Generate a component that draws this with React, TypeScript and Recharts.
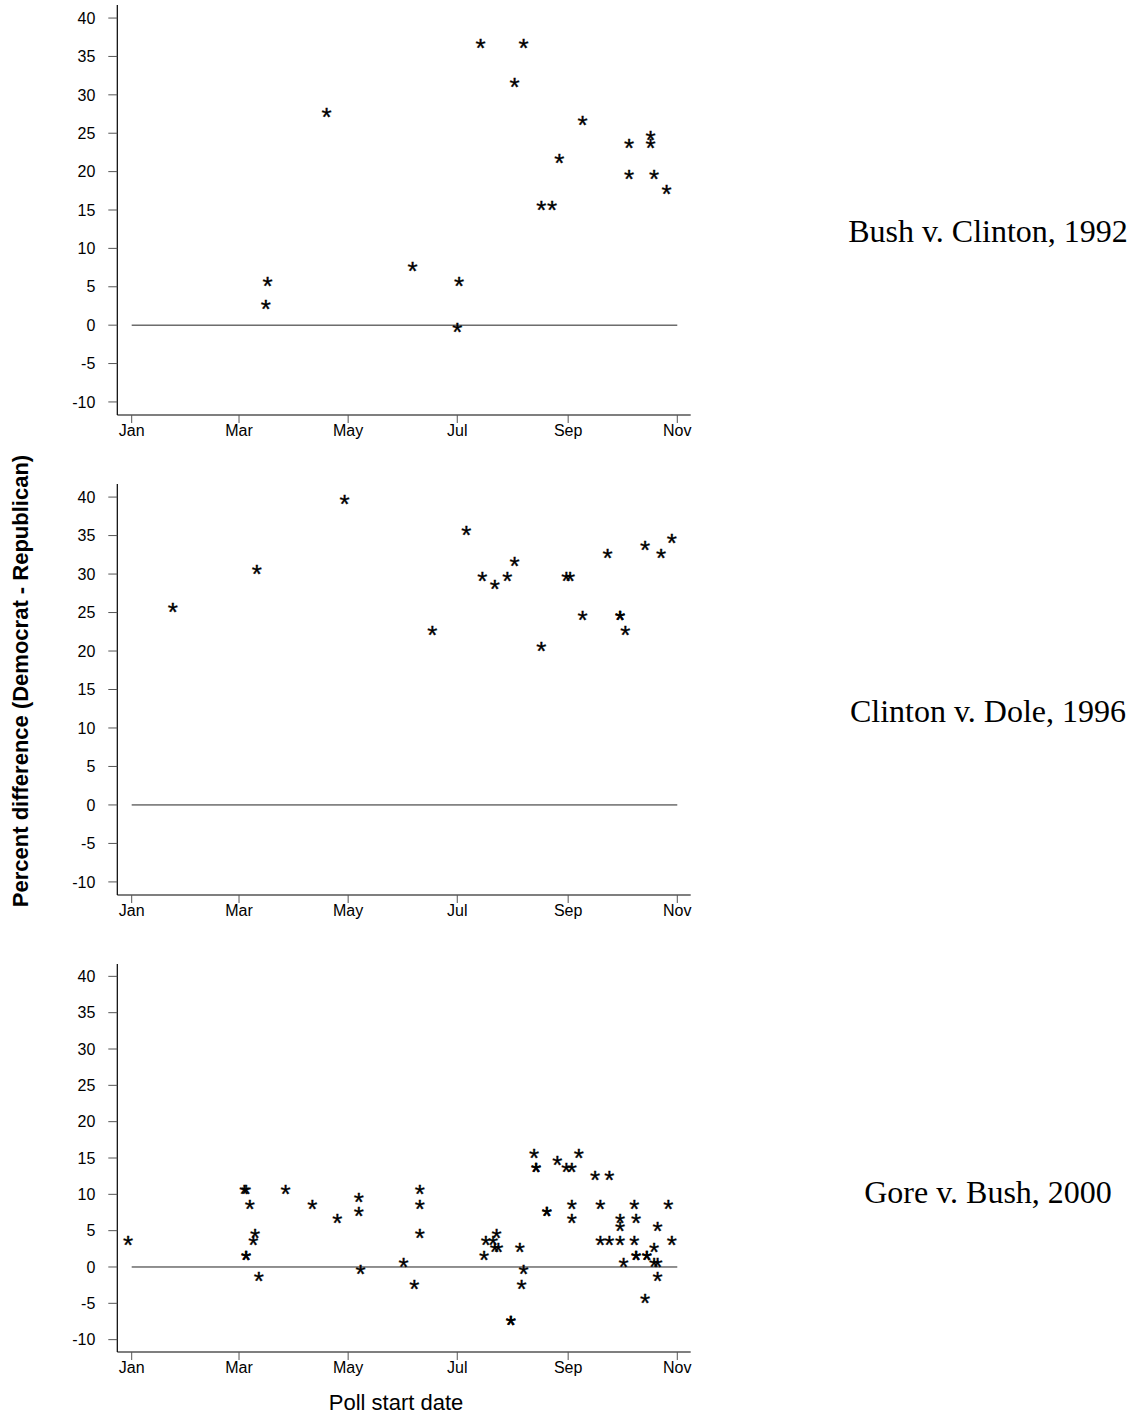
import React from "react";
import { ScatterChart, Scatter, XAxis, YAxis, ReferenceLine } from "recharts";

const SANS = "'Liberation Sans', Arial, Helvetica, sans-serif";
const SERIF = "'Liberation Serif', 'Times New Roman', serif";

// Month tick positions (all three election years are leap years)
const monthTickDates = ["01-01", "03-01", "05-01", "07-01", "09-01", "11-01"];
const monthTickLabels = ["Jan", "Mar", "May", "Jul", "Sep", "Nov"];
const yTicks = [-10, -5, 0, 5, 10, 15, 20, 25, 30, 35, 40];

// Bush v. Clinton, 1992
const dates1992 = [
  "1992-03-16", "1992-03-17", "1992-04-19", "1992-06-06", "1992-07-01", "1992-07-02",
  "1992-07-14", "1992-08-02", "1992-08-07", "1992-08-17", "1992-08-23", "1992-08-27",
  "1992-09-09", "1992-10-05", "1992-10-05", "1992-10-17", "1992-10-17", "1992-10-19",
  "1992-10-26",
];
const margins1992 = [3, 6, 28, 8, 0, 6, 37, 32, 37, 16, 16, 22, 27, 24, 20, 25, 24, 20, 18];

// Clinton v. Dole, 1996
const dates1996 = [
  "1996-01-24", "1996-03-11", "1996-04-29", "1996-06-17", "1996-07-06", "1996-07-15",
  "1996-07-22", "1996-07-29", "1996-08-02", "1996-08-17", "1996-08-31", "1996-09-02",
  "1996-09-09", "1996-09-23", "1996-09-30", "1996-09-30", "1996-10-03", "1996-10-14",
  "1996-10-23", "1996-10-29",
];
const margins1996 = [26, 31, 40, 23, 36, 30, 29, 30, 32, 21, 30, 30, 25, 33, 25, 25, 23, 34, 33, 35];

// Gore v. Bush, 2000
const dates2000 = [
  "1999-12-30", "2000-03-04", "2000-03-05", "2000-03-05", "2000-03-05", "2000-03-07",
  "2000-03-09", "2000-03-10", "2000-03-12", "2000-03-27", "2000-04-11", "2000-04-25",
  "2000-05-07", "2000-05-07", "2000-05-08", "2000-06-01", "2000-06-07", "2000-06-10",
  "2000-06-10", "2000-06-10", "2000-07-16", "2000-07-17", "2000-07-21", "2000-07-23",
  "2000-07-22", "2000-07-24", "2000-07-31", "2000-07-31", "2000-08-05", "2000-08-06",
  "2000-08-07", "2000-08-13", "2000-08-14", "2000-08-14", "2000-08-20", "2000-08-20",
  "2000-08-26", "2000-08-31", "2000-09-03", "2000-09-03", "2000-09-03", "2000-09-07",
  "2000-09-16", "2000-09-19", "2000-09-19", "2000-09-24", "2000-09-24", "2000-09-30",
  "2000-09-30", "2000-09-30", "2000-10-02", "2000-10-08", "2000-10-08", "2000-10-09",
  "2000-10-09", "2000-10-09", "2000-10-14", "2000-10-15", "2000-10-15", "2000-10-19",
  "2000-10-19", "2000-10-21", "2000-10-21", "2000-10-21", "2000-10-27", "2000-10-29",
];
const margins2000 = [
  4, 11, 11, 2, 2, 9,
  4, 5, -1, 11, 9, 7,
  10, 8, 0, 1, -2, 11,
  9, 5, 2, 4, 4, 5,
  3, 3, -7, -7, 3, -2,
  0, 16, 14, 14, 8, 8,
  15, 14, 14, 9, 7, 16,
  13, 9, 4, 13, 4, 7,
  6, 4, 1, 9, 4, 7,
  2, 2, -4, 2, 2, 3,
  1, 6, 1, -1, 9, 4,
];

const DAY = 86400000;
function dayOfYear(iso: string, year: number): number {
  const [y, m, d] = iso.split("-").map(Number);
  return Math.round((Date.UTC(y, m - 1, d) - Date.UTC(year, 0, 1)) / DAY);
}
const monthTicks = monthTickDates.map((md) => dayOfYear("2000-" + md, 2000));
const tickLabelFor = (v: number) => {
  const i = monthTicks.indexOf(v);
  return i >= 0 ? monthTickLabels[i] : "";
};

function buildSeries(dates: string[], margins: number[], year: number) {
  return dates.map((d, i) => ({ x: dayOfYear(d, year), y: margins[i] }));
}

const Asterisk = (props: any) => {
  const { cx, cy } = props;
  if (cx == null || cy == null) return null;
  return (
    <text
      x={cx}
      y={cy + 1}
      dy="0.585em"
      textAnchor="middle"
      fontFamily={SANS}
      fontSize={26}
      fill="#000"
      stroke="#000"
      strokeWidth={0.35}
    >
      *
    </text>
  );
};

const PLOT_LEFT = 117.3;
const PLOT_RIGHT = 690.7;
const CHART_W = 700;
const X_DOMAIN: [number, number] = [-8.05, 312.5];
const Y_DOMAIN: [number, number] = [-11.7, 41.7];

type PanelProps = {
  data: { x: number; y: number }[];
  plotTop: number;
  plotHeight: number;
};

const Panel = ({ data, plotTop, plotHeight }: PanelProps) => {
  const mTop = 5;
  const xAxisH = 45;
  const height = mTop + plotHeight + xAxisH + 5;
  const nov = monthTicks[monthTicks.length - 1];
  return (
    <div style={{ position: "absolute", left: 0, top: plotTop - mTop }}>
      <ScatterChart
        width={CHART_W}
        height={height}
        margin={{ top: mTop, right: CHART_W - PLOT_RIGHT, bottom: 5, left: 0 }}
      >
        <XAxis
          type="number"
          dataKey="x"
          domain={X_DOMAIN}
          ticks={monthTicks}
          interval={0}
          allowDataOverflow
          tickFormatter={tickLabelFor}
          height={xAxisH}
          tickSize={8}
          tickMargin={2}
          axisLine={{ stroke: "#000", strokeWidth: 1.2 }}
          tickLine={{ stroke: "#555" }}
          tick={{ fontSize: 16, fill: "#000", fontFamily: SANS }}
        />
        <YAxis
          type="number"
          dataKey="y"
          domain={Y_DOMAIN}
          ticks={yTicks}
          interval={0}
          allowDataOverflow
          width={PLOT_LEFT}
          tickSize={9}
          tickMargin={13}
          axisLine={{ stroke: "#000", strokeWidth: 1.2 }}
          tickLine={{ stroke: "#555" }}
          tick={{ fontSize: 16, fill: "#000", fontFamily: SANS }}
        />
        <ReferenceLine
          segment={[
            { x: 0, y: 0 },
            { x: nov, y: 0 },
          ]}
          stroke="#222"
          strokeWidth={1}
          ifOverflow="visible"
        />
        <Scatter data={data} shape={Asterisk} isAnimationActive={false} />
      </ScatterChart>
    </div>
  );
};

const panels = [
  { title: "Bush v. Clinton, 1992", data: buildSeries(dates1992, margins1992, 1992), plotTop: 5, plotHeight: 410, titleBase: 241.7 },
  { title: "Clinton v. Dole, 1996", data: buildSeries(dates1996, margins1996, 1996), plotTop: 484, plotHeight: 411, titleBase: 721.7 },
  { title: "Gore v. Bush, 2000", data: buildSeries(dates2000, margins2000, 2000), plotTop: 964, plotHeight: 388, titleBase: 1203 },
];

export default function App() {
  return (
    <div
      style={{
        position: "absolute",
        left: 0,
        top: 0,
        width: 1136,
        height: 1416,
        background: "#fff",
        overflow: "hidden",
      }}
    >
      {panels.map((p) => (
        <Panel key={p.title} data={p.data} plotTop={p.plotTop} plotHeight={p.plotHeight} />
      ))}
      <svg
        width={1136}
        height={1416}
        style={{ position: "absolute", left: 0, top: 0, pointerEvents: "none" }}
      >
        {panels.map((p) => (
          <text
            key={p.title}
            x={988}
            y={p.titleBase}
            textAnchor="middle"
            fontFamily={SERIF}
            fontSize={32}
            fill="#000"
          >
            {p.title}
          </text>
        ))}
        <text
          x={396}
          y={1410}
          textAnchor="middle"
          fontFamily={SANS}
          fontSize={22}
          fill="#000"
        >
          Poll start date
        </text>
        <text
          transform="translate(28, 681) rotate(-90)"
          textAnchor="middle"
          fontFamily={SANS}
          fontSize={22}
          fontWeight="bold"
          fill="#000"
        >
          Percent difference (Democrat - Republican)
        </text>
      </svg>
    </div>
  );
}
